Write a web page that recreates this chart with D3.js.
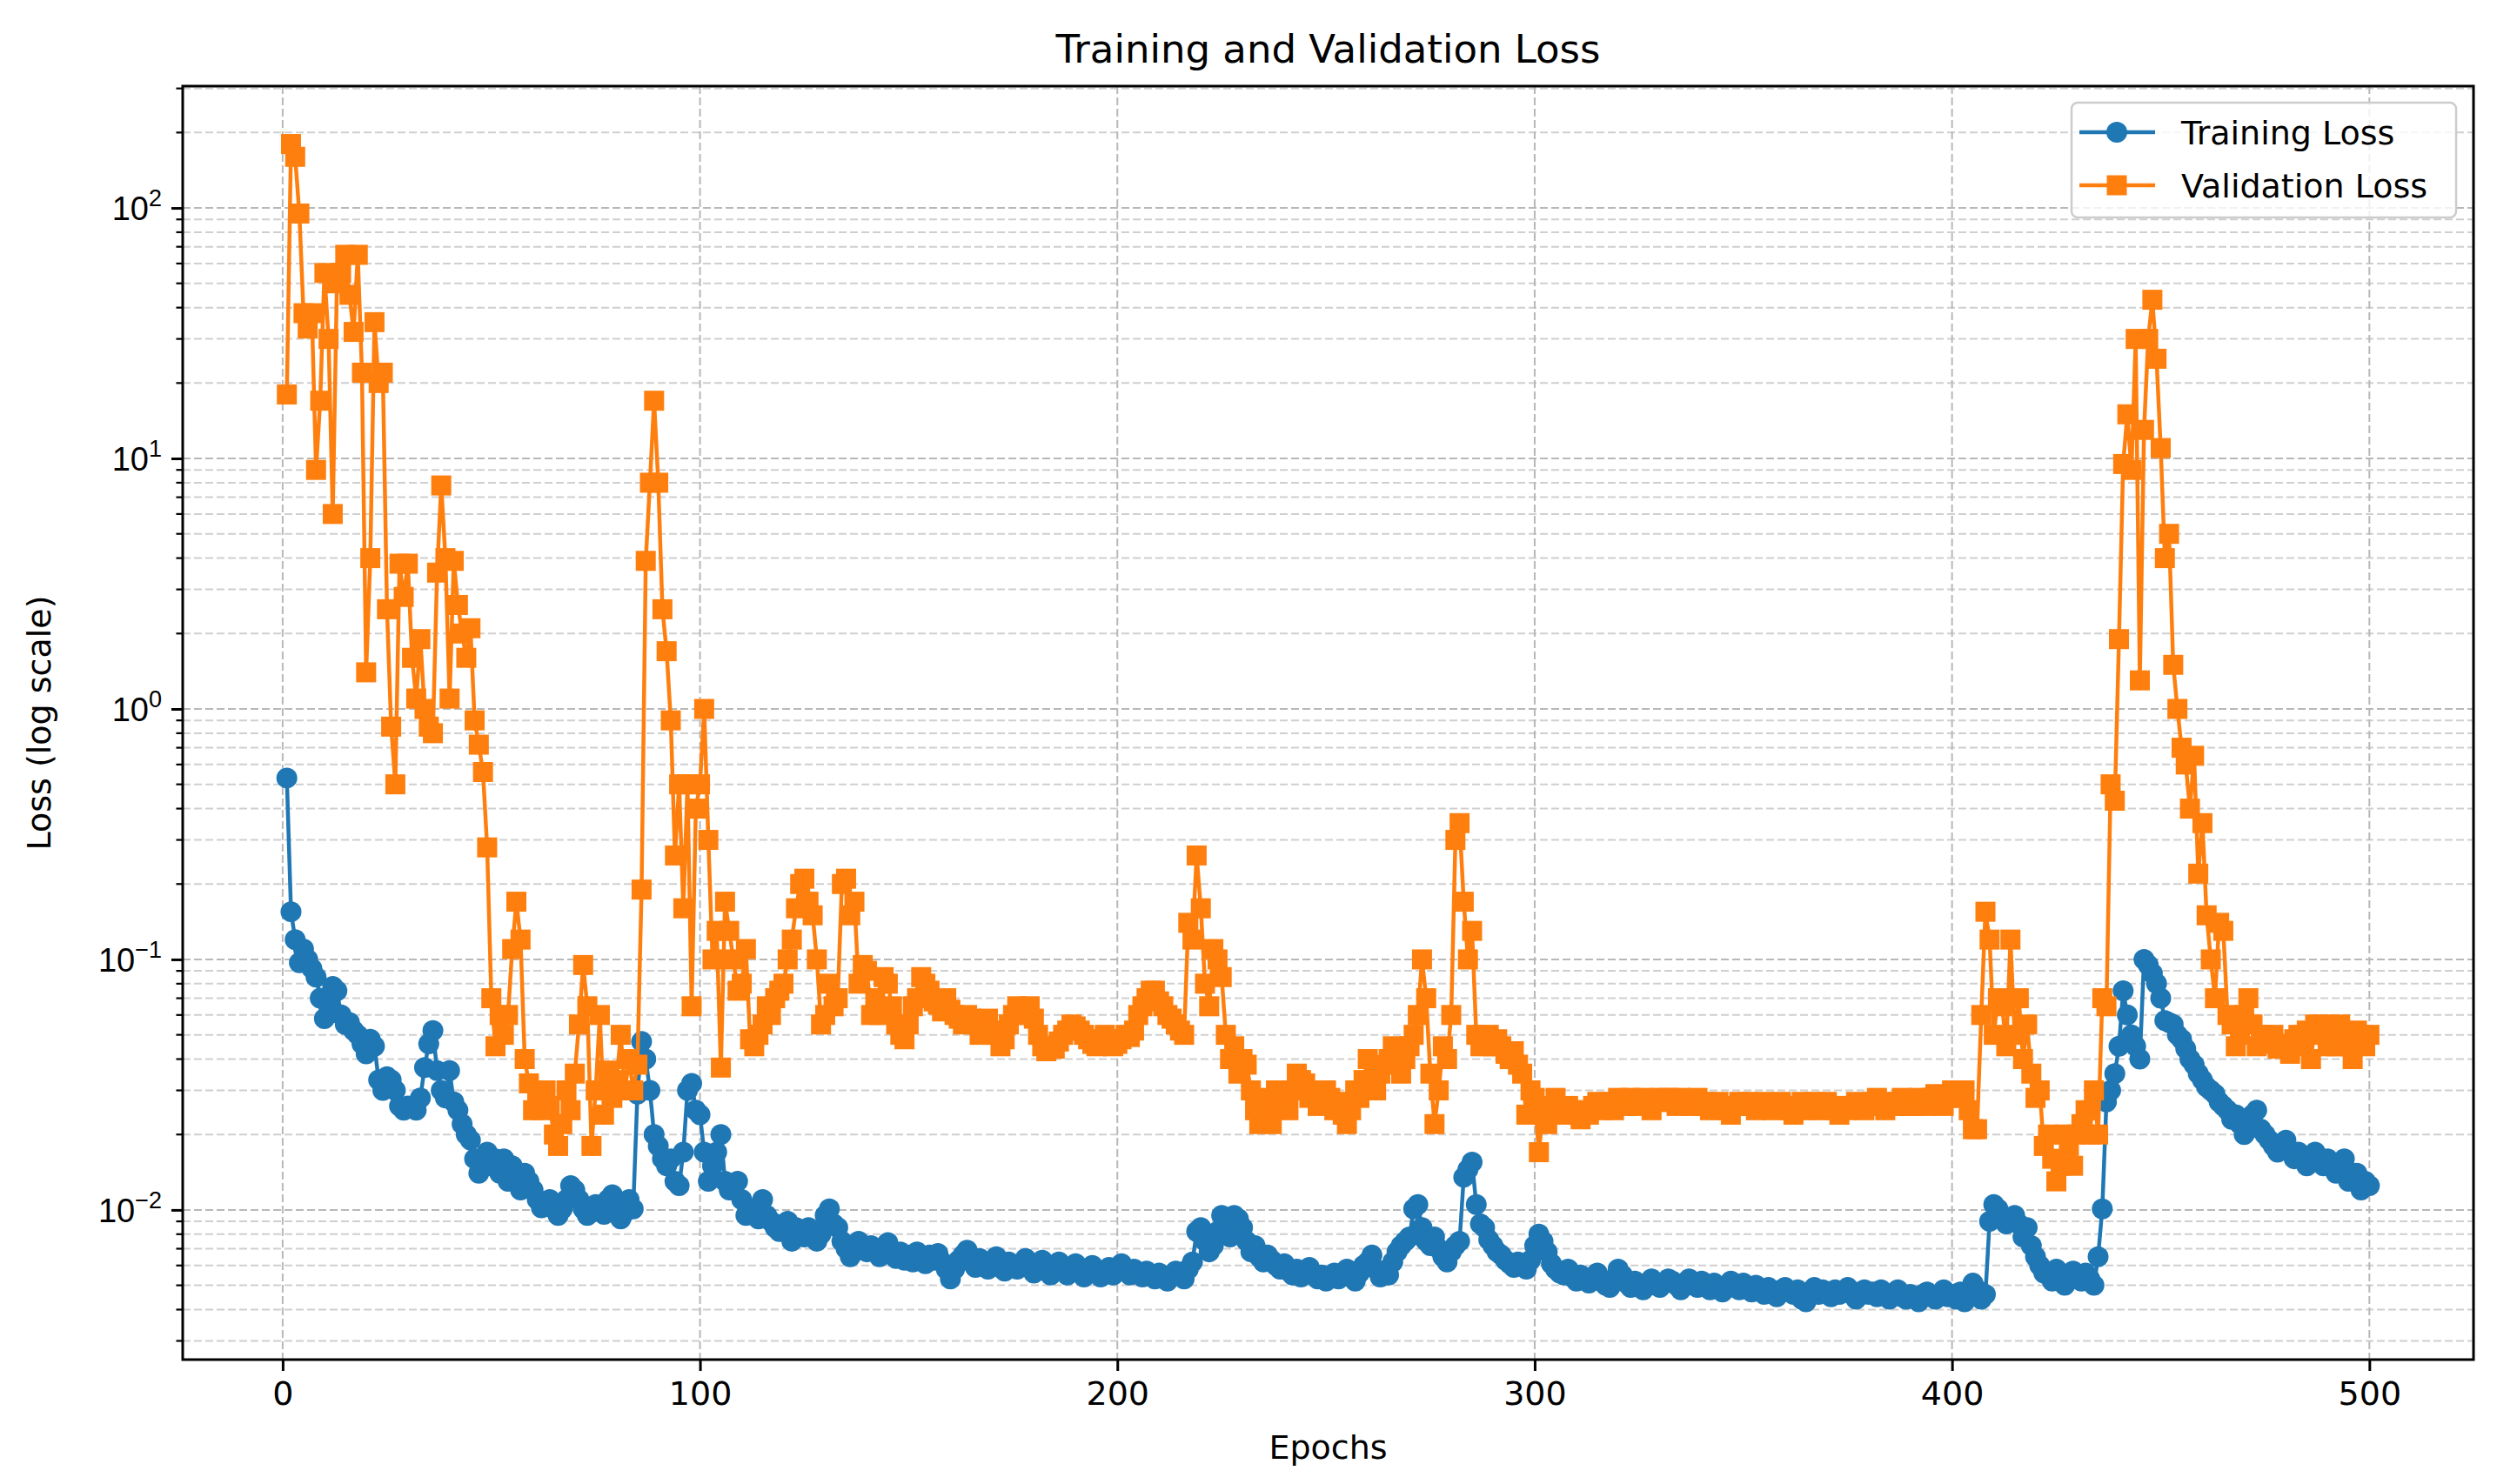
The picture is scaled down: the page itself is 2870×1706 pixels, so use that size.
<!DOCTYPE html>
<html><head><meta charset="utf-8">
<script src="https://cdn.jsdelivr.net/npm/d3@7"></script>
<style>body{margin:0;background:#fff}svg{font-family:"DejaVu Sans",sans-serif}</style>
</head><body><svg id="c" width="2870" height="1706"></svg>
<script>
const trainLoss=[
.53,.155,.12,.097,.11,.1,.092,.085,.07,.058,.065,.078,.075,.06,.055,.056,.052,.05,.046,.042,
.048,.045,.033,.03,.034,.033,.03,.026,.025,.026,.026,.025,.028,.037,.046,.052,.036,.03,.028,.036,
.027,.025,.022,.02,.019,.016,.014,.015,.017,.015,.016,.014,.016,.013,.015,.013,.012,.014,.013,.012,
.011,.0102,.0105,.011,.0101,.0095,.0101,.011,.0125,.012,.011,.0101,.0095,.0098,.0105,.0101,.0096,.011,.0115,.0105,
.0092,.0098,.011,.0101,.029,.047,.04,.03,.02,.018,.016,.015,.016,.013,.0125,.017,.03,.032,.025,.024,
.017,.013,.015,.017,.02,.013,.012,.012,.013,.011,.0095,.0097,.0101,.0092,.011,.0095,.009,.0085,.0082,.0088,
.009,.0075,.0085,.008,.0078,.0085,.0082,.0075,.008,.0095,.0101,.0088,.0085,.0075,.007,.0065,.0068,.0075,.007,.0068,
.0072,.0068,.0065,.0071,.0074,.0066,.0064,.0068,.0063,.0066,.0062,.0068,.0064,.0061,.0066,.0063,.0067,.0062,.0058,.0053,
.0058,.0063,.0066,.0069,.0062,.0059,.0064,.0061,.0058,.0062,.0065,.0059,.0057,.0062,.006,.0058,.0061,.0064,.0059,.0056,
.0059,.0063,.0057,.0055,.006,.0062,.0058,.0055,.0059,.0061,.0057,.0054,.0058,.006,.0056,.0054,.0057,.0059,.0055,.0058,
.0061,.0057,.0055,.0058,.0056,.0054,.0057,.0055,.0053,.0056,.0054,.0052,.0055,.0057,.0055,.0053,.0058,.0062,.0082,.0085,
.0075,.0068,.0072,.0082,.0095,.009,.0078,.0095,.0092,.0085,.0075,.0068,.0072,.0065,.0062,.0066,.0063,.006,.0058,.0061,
.0057,.0055,.0058,.0054,.0056,.0059,.0055,.0053,.0055,.0052,.0054,.0056,.0053,.0055,.0058,.0054,.0052,.0056,.006,.0062,
.0066,.0058,.0054,.0057,.0055,.0062,.0068,.0072,.0075,.0078,.0101,.0105,.0085,.0075,.0072,.0078,.007,.0065,.0062,.0068,
.0072,.0075,.0135,.0145,.0155,.0105,.0088,.0085,.0076,.0072,.0068,.0066,.0063,.0061,.0059,.0062,.006,.0058,.0063,.0072,
.008,.0075,.0068,.0061,.0058,.0056,.0055,.0058,.0054,.0052,.0055,.0053,.0051,.0054,.0056,.0052,.005,.0049,.0053,.0058,
.0055,.0051,.0049,.0052,.005,.0048,.0051,.0053,.005,.0049,.0051,.0053,.0052,.005,.0048,.0051,.0053,.005,.0049,.0052,
.005,.0048,.0051,.0049,.0047,.005,.0052,.0049,.0048,.0051,.0049,.0047,.005,.0048,.0046,.0049,.0047,.0045,.0048,.0049,
.0047,.0046,.0048,.0044,.0043,.0047,.0049,.0046,.0048,.0047,.0045,.0048,.0046,.0047,.0049,.0046,.0044,.0047,.0048,.0046,
.0047,.0045,.0048,.0046,.0044,.0046,.0048,.0045,.0044,.0046,.0045,.0043,.0046,.0047,.0045,.0044,.0046,.0048,.0045,.0046,
.0044,.0047,.0043,.0046,.0051,.0048,.0044,.0046,.009,.0105,.0101,.0092,.0088,.009,.0095,.0088,.0078,.0085,.0072,.0065,
.006,.0056,.0055,.0052,.0058,.0055,.005,.0054,.0057,.0055,.0052,.0056,.0053,.005,.0065,.0101,.027,.03,.035,.045,
.075,.06,.05,.045,.04,.1,.095,.088,.08,.07,.057,.056,.055,.05,.048,.044,.04,.038,.035,.033,
.031,.03,.029,.027,.026,.025,.023,.024,.022,.02,.021,.024,.025,.021,.02,.019,.018,.017,.018,.019,
.017,.016,.017,.016,.015,.016,.017,.016,.015,.016,.015,.014,.015,.016,.013,.014,.014,.012,.013,.0125];
const valLoss=[
18,180,160,95,38,33,38,9,17,55,30,6,50,55,65,45,32,65,22,1.4,
4,35,20,22,2.5,0.85,0.5,3.8,2.8,3.8,1.6,1.1,1.9,1.0,0.85,0.8,3.5,7.8,4,1.1,
3.9,2.6,2,1.6,2.1,0.9,0.72,0.56,0.28,0.07,0.045,0.06,0.05,0.06,0.11,0.17,0.12,0.04,0.032,0.025,
0.028,0.025,0.03,0.026,0.02,0.018,0.022,0.03,0.025,0.035,0.055,0.095,0.065,0.018,0.03,0.06,0.024,0.036,0.028,0.033,
0.05,0.03,0.04,0.03,0.038,0.19,3.9,8,17,8,2.5,1.7,0.9,0.26,0.5,0.16,0.5,0.065,0.4,0.5,
1.0,0.3,0.1,0.13,0.037,0.17,0.13,0.1,0.075,0.08,
0.11,0.048,0.045,0.05,0.055,0.065,0.06,0.07,0.075,0.08,0.1,0.12,0.16,0.2,0.21,0.17,0.15,0.1,0.055,0.06,
0.08,0.065,0.07,0.2,0.21,0.15,0.17,0.08,0.095,0.09,0.06,0.07,0.06,0.085,0.08,0.065,0.055,0.05,0.048,0.055,
0.065,0.07,0.085,0.08,0.075,0.068,0.066,0.062,0.07,0.063,0.06,0.058,0.055,0.06,0.058,0.055,0.05,0.055,0.058,0.052,
0.05,0.045,0.048,0.055,0.06,0.065,0.06,0.062,0.065,0.058,0.05,0.045,0.043,0.045,0.044,0.047,0.05,0.052,0.055,0.054,
0.052,0.05,0.048,0.046,0.045,0.047,0.05,0.048,0.045,0.046,0.048,0.05,0.049,0.052,0.06,0.065,0.07,0.075,0.075,0.068,
0.065,0.06,0.058,0.055,0.052,0.05,0.14,0.12,0.26,0.16,0.08,0.065,0.11,0.1,0.085,0.05,0.04,0.045,0.035,0.04,
0.038,0.03,0.025,0.022,0.024,0.028,0.022,0.03,0.026,0.028,0.025,0.03,0.035,0.033,0.032,0.028,0.03,0.026,0.027,0.03,
0.028,0.025,0.027,0.024,0.022,0.025,0.03,0.028,0.033,0.04,0.032,0.03,0.035,0.038,0.04,0.045,0.042,0.035,0.04,0.045,
0.05,0.06,0.1,0.07,0.035,0.022,0.03,0.045,0.04,0.06,0.3,0.35,0.17,0.1,0.13,0.05,0.045,0.048,0.05,0.045,
0.048,0.045,0.042,0.04,0.043,0.038,0.035,0.024,0.03,0.028,0.017,0.025,0.022,0.026,0.028,0.025,0.024,0.026,0.025,0.024,
0.023,0.025,0.024,0.026,0.027,0.025,0.026,0.027,0.025,0.028,0.026,0.027,0.028,0.026,0.027,0.028,0.027,0.025,0.027,0.028,
0.027,0.028,0.027,0.026,0.028,0.027,0.026,0.027,0.028,0.026,0.027,0.025,0.026,0.027,0.026,0.025,0.024,0.026,0.027,0.026,
0.027,0.026,0.025,0.026,0.027,0.026,0.025,0.026,0.027,0.026,0.025,0.024,0.026,0.027,0.025,0.026,0.027,0.025,0.026,0.027,
0.026,0.025,0.024,0.026,0.025,0.026,0.027,0.026,0.025,0.026,0.027,0.028,0.026,0.025,0.027,0.026,0.027,0.028,0.026,0.027,
0.026,0.028,0.027,0.026,0.028,0.029,0.027,0.026,0.028,0.03,
0.028,0.029,0.03,0.025,0.021,0.021,0.06,0.155,0.12,0.05,0.07,0.065,0.045,0.12,0.05,0.07,0.04,0.055,0.035,0.028,
0.03,0.018,0.02,0.016,0.013,0.015,0.02,0.018,0.015,0.02,0.022,0.025,0.02,0.03,0.02,0.07,0.065,0.5,0.43,1.9,
9.5,15,9,30,1.3,13,30,43,25,11,4,5,1.5,1.0,0.7,0.6,0.4,0.65,0.22,0.35,
0.15,0.1,0.07,0.14,0.13,0.06,0.055,0.045,0.05,0.06,0.07,0.055,0.045,0.05,0.046,0.048,0.05,0.044,0.046,0.045,
0.042,0.048,0.05,0.045,0.052,0.04,0.055,0.05,0.055,0.045,0.05,0.045,0.055,0.05,0.045,0.04,0.052,0.05,0.045,0.05];
const xTicks=[0,100,200,300,400,500];
const yTicks=[0.01,0.1,1,10,100];
const seriesNames=["Training Loss","Validation Loss"];
const colors=["#1f77b4","#ff7f0e"];

const svg=d3.select("#c");
const L=210,R=2843,T=99,B=1563;
const FS=38;
const n=trainLoss.length;
const x=d3.scaleLinear().domain([1-(n-1)*0.05,n+(n-1)*0.05]).range([L,R]);
const all=trainLoss.concat(valLoss);
const lo=Math.log10(d3.min(all)),hi=Math.log10(d3.max(all)),m=(hi-lo)*0.05;
const y=d3.scaleLog().domain([10**(lo-m),10**(hi+m)]).range([B,T]);

const g=svg.append("g");
const minor=[];
for(let e=-3;e<=2;e++)for(let k=2;k<=9;k++){const v=k*10**e;if(v>y.domain()[0]&&v<y.domain()[1])minor.push(v);}
g.selectAll(".mn").data(minor).join("line").attr("x1",L).attr("x2",R).attr("y1",d=>y(d)).attr("y2",d=>y(d))
 .attr("stroke","#cfcfcf").attr("stroke-width",2).attr("stroke-dasharray","9,4");
g.selectAll(".mj").data(yTicks).join("line").attr("x1",L).attr("x2",R).attr("y1",d=>y(d)).attr("y2",d=>y(d))
 .attr("stroke","#b8b8b8").attr("stroke-width",2).attr("stroke-dasharray","9,4");
g.selectAll(".xg").data(xTicks).join("line").attr("y1",T).attr("y2",B).attr("x1",d=>x(d)).attr("x2",d=>x(d))
 .attr("stroke","#b8b8b8").attr("stroke-width",2).attr("stroke-dasharray","9,4");

svg.append("defs").append("clipPath").attr("id","cp").append("rect").attr("x",L).attr("y",T).attr("width",R-L).attr("height",B-T);
const plot=svg.append("g").attr("clip-path","url(#cp)");
[trainLoss,valLoss].forEach((arr,i)=>{
  const pts=arr.map((v,j)=>[j+1,v]);
  plot.append("path").datum(pts).attr("fill","none").attr("stroke",colors[i]).attr("stroke-width",4.5)
    .attr("d",d3.line().x(d=>x(d[0])).y(d=>y(d[1])));
  if(i===0) plot.selectAll(".c"+i).data(pts).join("circle").attr("cx",d=>x(d[0])).attr("cy",d=>y(d[1])).attr("r",12).attr("fill",colors[i]);
  else plot.selectAll(".s"+i).data(pts).join("rect").attr("x",d=>x(d[0])-11.5).attr("y",d=>y(d[1])-11.5).attr("width",23).attr("height",23).attr("fill",colors[i]);
});

svg.append("rect").attr("x",L).attr("y",T).attr("width",R-L).attr("height",B-T).attr("fill","none").attr("stroke","#000").attr("stroke-width",3);
const xa=svg.append("g").attr("transform",`translate(0,${B})`).call(d3.axisBottom(x).tickValues(xTicks).tickSize(13).tickPadding(12));
xa.select(".domain").remove();
xa.selectAll("text").attr("font-size",FS).attr("fill","#000").attr("font-family","DejaVu Sans");
xa.selectAll("line").attr("stroke-width",3);
const ya=svg.append("g").attr("transform",`translate(${L},0)`).call(d3.axisLeft(y).tickValues(yTicks).tickSize(13).tickFormat(""));
ya.select(".domain").remove();
ya.selectAll("line").attr("stroke-width",3);
ya.selectAll(".mt").data(minor).join("line").attr("x1",-7.5).attr("x2",0).attr("y1",d=>y(d)).attr("y2",d=>y(d)).attr("stroke","#000").attr("stroke-width",2.2);
ya.selectAll(".tk").data(yTicks).join("text").attr("x",-24).attr("y",d=>y(d)+14).attr("text-anchor","end")
  .attr("font-size",FS).attr("fill","#000").each(function(d){
    const t=d3.select(this),e=Math.round(Math.log10(d));
    t.append("tspan").text("10");
    t.append("tspan").attr("font-size",27).attr("dy",-16).text(e<0?"\u2212"+(-e):String(e));
  });

svg.append("text").attr("x",(L+R)/2).attr("y",72).attr("text-anchor","middle").attr("font-size",45).text("Training and Validation Loss");
svg.append("text").attr("x",(L+R)/2).attr("y",1677).attr("text-anchor","middle").attr("font-size",FS).text("Epochs");
svg.append("text").attr("transform",`translate(58,${(T+B)/2}) rotate(-90)`).attr("text-anchor","middle").attr("font-size",FS).text("Loss (log scale)");

const lg=svg.append("g").attr("transform","translate(2381,118)");
lg.append("rect").attr("width",442).attr("height",132).attr("rx",7).attr("fill","#fff").attr("fill-opacity",0.8).attr("stroke","#cccccc").attr("stroke-width",2.5);
seriesNames.forEach((s,i)=>{
  const yy=34+i*61;
  lg.append("line").attr("x1",9).attr("x2",96).attr("y1",yy).attr("y2",yy).attr("stroke",colors[i]).attr("stroke-width",4.5);
  if(i===0) lg.append("circle").attr("cx",52).attr("cy",yy).attr("r",12).attr("fill",colors[i]);
  else lg.append("rect").attr("x",40.5).attr("y",yy-11.5).attr("width",23).attr("height",23).attr("fill",colors[i]);
  lg.append("text").attr("x",126).attr("y",yy+14).attr("font-size",FS).text(s);
});
</script></body></html>
